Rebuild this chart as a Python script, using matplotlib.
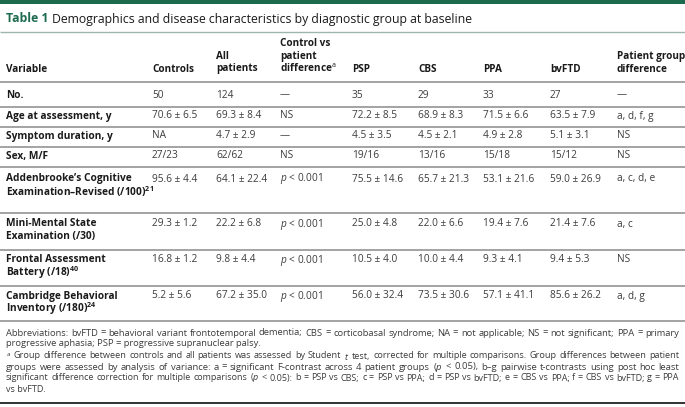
import matplotlib
matplotlib.use('Agg')
import matplotlib.pyplot as plt

plt.rcParams['font.family'] = ['Open Sans', 'DejaVu Sans']
plt.rcParams['mathtext.fontset'] = 'custom'
plt.rcParams['mathtext.rm'] = 'Open Sans'
plt.rcParams['mathtext.it'] = 'Open Sans:italic'
plt.rcParams['mathtext.bf'] = 'Open Sans:bold'

# ---- data ----
title_tag = 'Table 1'
title_text = 'Demographics and disease characteristics by diagnostic group at baseline'

headers = [['Variable'], ['Controls'], ['All', 'patients'],
           ['Control vs', 'patient', r'difference$^\mathrm{a}$'],
           ['PSP'], ['CBS'], ['PPA'], ['bvFTD'], ['Patient group', 'difference']]

variables = [['No.'],
             ['Age at assessment, y'],
             ['Symptom duration, y'],
             ['Sex, M/F'],
             ["Addenbrooke\u2019s Cognitive", 'Examination\u2013Revised (/100)$^{\\mathbf{21}}$'],
             ['Mini-Mental State', 'Examination (/30)'],
             ['Frontal Assessment', 'Battery (/18)$^{\\mathbf{40}}$'],
             ['Cambridge Behavioral', 'Inventory (/180)$^{\\mathbf{24}}$']]

controls = ['50', '70.6 \u00b1 6.5', 'NA', '27/23', '95.6 \u00b1 4.4', '29.3 \u00b1 1.2', '16.8 \u00b1 1.2', '5.2 \u00b1 5.6']
all_patients = ['124', '69.3 \u00b1 8.4', '4.7 \u00b1 2.9', '62/62', '64.1 \u00b1 22.4', '22.2 \u00b1 6.8', '9.8 \u00b1 4.4', '67.2 \u00b1 35.0']
ctrl_vs_pat = ['\u2014', 'NS', '\u2014', 'NS', '$p$ < 0.001', '$p$ < 0.001', '$p$ < 0.001', '$p$ < 0.001']
psp = ['35', '72.2 \u00b1 8.5', '4.5 \u00b1 3.5', '19/16', '75.5 \u00b1 14.6', '25.0 \u00b1 4.8', '10.5 \u00b1 4.0', '56.0 \u00b1 32.4']
cbs = ['29', '68.9 \u00b1 8.3', '4.5 \u00b1 2.1', '13/16', '65.7 \u00b1 21.3', '22.0 \u00b1 6.6', '10.0 \u00b1 4.4', '73.5 \u00b1 30.6']
ppa = ['33', '71.5 \u00b1 6.6', '4.9 \u00b1 2.8', '15/18', '53.1 \u00b1 21.6', '19.4 \u00b1 7.6', '9.3 \u00b1 4.1', '57.1 \u00b1 41.1']
bvftd = ['27', '63.5 \u00b1 7.9', '5.1 \u00b1 3.1', '15/12', '59.0 \u00b1 26.9', '21.4 \u00b1 7.6', '9.4 \u00b1 5.3', '85.6 \u00b1 26.2']
group_diff = ['\u2014', 'a, d, f, g', 'NS', 'NS', 'a, c, d, e', 'a, c', 'NS', 'a, d, g']

footnotes = [
    ('Abbreviations: bvFTD = behavioral variant frontotemporal dementia; CBS = corticobasal syndrome; NA = not applicable; NS = not significant; PPA = primary', True),
    ('progressive aphasia; PSP = progressive supranuclear palsy.', False),
    ('$^\\mathrm{a}$ Group difference between controls and all patients was assessed by Student $t$ test, corrected for multiple comparisons. Group differences between patient', True),
    ('groups were assessed by analysis of variance: a = significant F-contrast across 4 patient groups ($p$ < 0.05), b\u2013g pairwise t-contrasts using post hoc least', True),
    ('significant difference correction for multiple comparisons ($p$ < 0.05): b = PSP vs CBS; c = PSP vs PPA; d = PSP vs bvFTD; e = CBS vs PPA; f = CBS vs bvFTD; g = PPA', True),
    ('vs bvFTD.', False),
]

# ---- layout (pixels) ----
W, H = 685, 407
col_x = [6, 152, 216, 280, 352, 418, 483, 550, 617]
row_y = [95, 116, 136, 156, 179, 224, 260, 296]
line_gap = 12.5
rule_y = [82, 107, 127, 147, 167, 213, 250, 286, 321]
foot_y = [333, 344, 356, 367, 378, 389]

green = '#1d6b4f'
dark = '#1a1a1a'
grey = '#3c3c3c'
fs = 7.3

fig = plt.figure(figsize=(W / 100, H / 100), dpi=100)
ax = fig.add_axes([0, 0, 1, 1])
ax.set_xlim(0, W)
ax.set_ylim(H, 0)
ax.axis('off')

# top band and title
ax.axhspan(0, 3.5, color=green, lw=0)
t = ax.text(6, 19, title_tag, color=green, fontsize=8.8, fontweight='bold', va='center')
fig.canvas.draw()
r = fig.canvas.get_renderer()
bb = t.get_window_extent(r)
ax.text(6 + bb.width + 4, 19, title_text, color=dark, fontsize=8.8, va='center')
ax.hlines(31.5, 0, W, color='#9fb5aa', lw=1.0)

# header
for x, lines in zip(col_x, headers):
    n = len(lines)
    for i, s in enumerate(lines):
        ax.text(x, 69 - (n - 1 - i) * line_gap, s, fontsize=fs - 0.1, fontweight='bold',
                color=dark, va='center')

# rules
for y in rule_y:
    ax.hlines(y, 0, W, color='#8a8a8a', lw=1.1)
ax.hlines(402.5, 0, W, color='#222222', lw=1.3)

# body
columns = [controls, all_patients, ctrl_vs_pat, psp, cbs, ppa, bvftd, group_diff]
for j, y in enumerate(row_y):
    for i, s in enumerate(variables[j]):
        ax.text(col_x[0], y + i * line_gap, s, fontsize=fs, fontweight='bold', color=dark, va='center')
    for k, col in enumerate(columns):
        ax.text(col_x[k + 1], y, col[j], fontsize=fs, color=grey, va='center')


def put_line(y, s, justify, size):
    # returns the font size actually used
    words = s.split(' ')
    left, right = 6, 679
    if not justify:
        ax.text(left, y, s, fontsize=size, color=grey, va='center')
        return size
    arts = [ax.text(0, y, w, fontsize=size, color=grey, va='center') for w in words]
    widths = [a.get_window_extent(r).width for a in arts]
    total = sum(widths)
    gap = (right - left - total) / (len(words) - 1)
    if gap < 2.5:
        for a in arts:
            a.remove()
        return put_line(y, s, justify, size * (right - left - 2.7 * (len(words) - 1)) / total)
    x = left
    for a, w in zip(arts, widths):
        a.set_x(x)
        x += w + gap
    return size


size = 7.6
for y, (s, just) in zip(foot_y, footnotes):
    used = put_line(y, s, just, 7.6 if just else size)
    size = used

fig.savefig('out.png', dpi=100)
